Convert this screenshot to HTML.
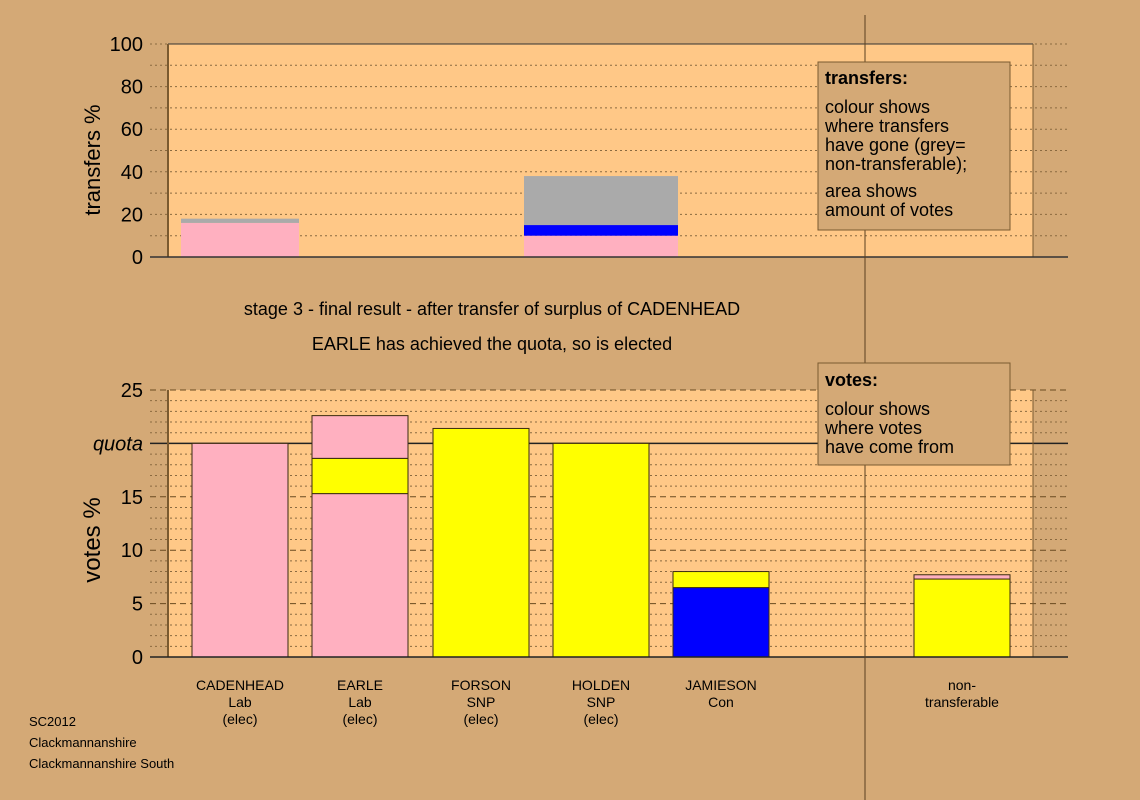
<!DOCTYPE html>
<html><head><meta charset="utf-8"><style>
html,body{margin:0;padding:0;background:#d4a976;}
svg{display:block;font-family:"Liberation Sans",Arial,sans-serif;}
</style></head><body>
<svg id="c" width="1140" height="800" viewBox="0 0 1140 800" xmlns="http://www.w3.org/2000/svg">
<rect x="0" y="0" width="1140" height="800" fill="#d4a976"/>
<rect x="168" y="44" width="865" height="213" fill="#ffc887"/>
<rect x="168" y="390" width="865" height="267" fill="#ffc887"/>
<g id="grid"></g>
<g id="bars"></g>
<line x1="168" y1="44" x2="1033" y2="44" stroke="#333" stroke-width="1"/>
<line x1="168" y1="44" x2="168" y2="257" stroke="#7a5a30" stroke-width="2"/>
<line x1="1033" y1="44" x2="1033" y2="257" stroke="#7a5a30" stroke-width="1"/>
<line x1="168" y1="390" x2="168" y2="657" stroke="#7a5a30" stroke-width="2"/>
<line x1="1033" y1="390" x2="1033" y2="657" stroke="#7a5a30" stroke-width="1"/>
<line x1="150" y1="257" x2="1068" y2="257" stroke="#333" stroke-width="1.5"/>
<line x1="150" y1="657" x2="1068" y2="657" stroke="#222" stroke-width="1.5"/>
<line x1="865" y1="15" x2="865" y2="800" stroke="#5a4020" stroke-width="1"/>
<text x="100" y="160" font-size="22" text-anchor="middle" transform="rotate(-90 100 160)">transfers %</text>
<text x="100" y="540" font-size="24" text-anchor="middle" transform="rotate(-90 100 540)">votes %</text>
<text x="492" y="315" font-size="18" text-anchor="middle">stage 3 - final result - after transfer of surplus of CADENHEAD</text>
<text x="492" y="350" font-size="18" text-anchor="middle">EARLE has achieved the quota, so is elected</text>
<g>
<rect x="818" y="62" width="192" height="168" fill="#d4a976" stroke="#7a5a30" stroke-width="1"/>
<text x="825" y="84" font-size="18" font-weight="bold">transfers:</text>
<text x="825" y="113" font-size="18">colour shows</text>
<text x="825" y="132" font-size="18">where transfers</text>
<text x="825" y="151" font-size="18">have gone (grey=</text>
<text x="825" y="170" font-size="18">non-transferable);</text>
<text x="825" y="197" font-size="18">area shows</text>
<text x="825" y="216" font-size="18">amount of votes</text>
</g>
<g>
<rect x="818" y="363" width="192" height="102" fill="#d4a976" stroke="#7a5a30" stroke-width="1"/>
<text x="825" y="386" font-size="18" font-weight="bold">votes:</text>
<text x="825" y="415" font-size="18">colour shows</text>
<text x="825" y="434" font-size="18">where votes</text>
<text x="825" y="453" font-size="18">have come from</text>
</g>
<g font-size="13">
<text x="29" y="726">SC2012</text>
<text x="29" y="747">Clackmannanshire</text>
<text x="29" y="768">Clackmannanshire South</text>
</g>
<g id="labels"></g>
</svg>
<script>
const tTicks=[0,20,40,60,80,100];
const vTicks=[0,5,10,15,20,25];
const quota=20;
const candNames=["CADENHEAD","EARLE","FORSON","HOLDEN","JAMIESON","non-"];
const candLine2=["Lab","Lab","SNP","SNP","Con","transferable"];
const candLine3=["(elec)","(elec)","(elec)","(elec)","",""];
const candCenters=[240,360,481,601,721,962];
// transfer segments: [bar index, color, from, to]
const transferBars=[0,3];
const transferWidths=[118,154];
const transferPink=[16,10];
const transferBlue=[0,15];
const transferGrey=[18,38];
// votes stacked segments per candidate
const votePink1=[20,15.3,0,0,0,0];
const voteYellow=[0,18.6,21.4,20,0,7.3];
const voteBlue=[0,0,0,0,6.5,0];
const voteYellow2=[0,0,0,0,8.0,0];
const votePink2=[0,22.6,0,0,0,7.7];

const NS="http://www.w3.org/2000/svg";
const svg=document.getElementById('c');
const grid=document.getElementById('grid'),bars=document.getElementById('bars'),labels=document.getElementById('labels');
const ty=v=>257-v*2.13;
const vy=v=>657-v*10.68;
function mk(tag,attrs,parent){const e=document.createElementNS(NS,tag);for(const k in attrs)e.setAttribute(k,attrs[k]);parent.appendChild(e);return e;}
// top grid
for(let v=10;v<=100;v+=10){
 const l=mk('line',{x1:150,x2:1068,y1:ty(v),y2:ty(v),stroke:'#8a6a40','stroke-width':1,'stroke-dasharray':'2,3'},grid);
 
 
}
tTicks.forEach(v=>{const t=mk('text',{x:143,y:ty(v)+7,'font-size':20,'text-anchor':'end'},labels);t.textContent=v;
 
 });
// bottom grid
for(let v=1;v<=25;v++){
 if(v===quota)continue;
 const major=v%5===0;
 const l=mk('line',{x1:150,x2:1068,y1:vy(v),y2:vy(v),stroke:major?'#6a4a20':'#8a6a40','stroke-width':1,'stroke-dasharray':major?'6,4':'2,3'},grid);
 
 
}
const q=mk('line',{x1:150,x2:1068,y1:vy(quota),y2:vy(quota),stroke:'#222','stroke-width':1.5},grid);


vTicks.forEach(v=>{const t=mk('text',{x:143,y:vy(v)+7,'font-size':20,'text-anchor':'end'},labels);
 if(v===quota){t.textContent='quota';t.setAttribute('font-style','italic');}else t.textContent=v;
 
 });
// transfer bars
transferBars.forEach((ci,i)=>{
 const w=transferWidths[i],x=candCenters[ci]-w/2;
 const segs=[[0,transferPink[i],'#ffb0c0'],[transferPink[i],transferBlue[i],'#0000ff'],[Math.max(transferPink[i],transferBlue[i]),transferGrey[i],'#aaaaaa']];
 segs.forEach(s=>{if(s[1]>s[0]){const r=mk('rect',{x:x,y:ty(s[1]),width:w,height:ty(s[0])-ty(s[1]),fill:s[2]},bars);
  
  }});
});
// vote bars
candNames.forEach((n,i)=>{
 const x=candCenters[i]-48,w=96;
 const segs=[];let base=0;
 if(votePink1[i]>0){segs.push([0,votePink1[i],'#ffb0c0']);base=votePink1[i];}
 if(voteBlue[i]>0){segs.push([base,voteBlue[i],'#0000ff']);base=voteBlue[i];}
 if(voteYellow[i]>0){segs.push([base,voteYellow[i],'#ffff00']);base=voteYellow[i];}
 if(voteYellow2[i]>0){segs.push([base,voteYellow2[i],'#ffff00']);base=voteYellow2[i];}
 if(votePink2[i]>0){segs.push([base,votePink2[i],'#ffb0c0']);base=votePink2[i];}
 segs.forEach(s=>{const r=mk('rect',{x:x,y:vy(s[1]),width:w,height:vy(s[0])-vy(s[1]),fill:s[2],stroke:'#3a2a10','stroke-width':1},bars);
  
  });
 const g=mk('g',{'font-size':14,'text-anchor':'middle'},labels);
 
 
 [n,candLine2[i],candLine3[i]].forEach((s,k)=>{if(s){const t=mk('text',{x:candCenters[i],y:690+k*17},g);t.textContent=s;}});
});
</script>
</body></html>
